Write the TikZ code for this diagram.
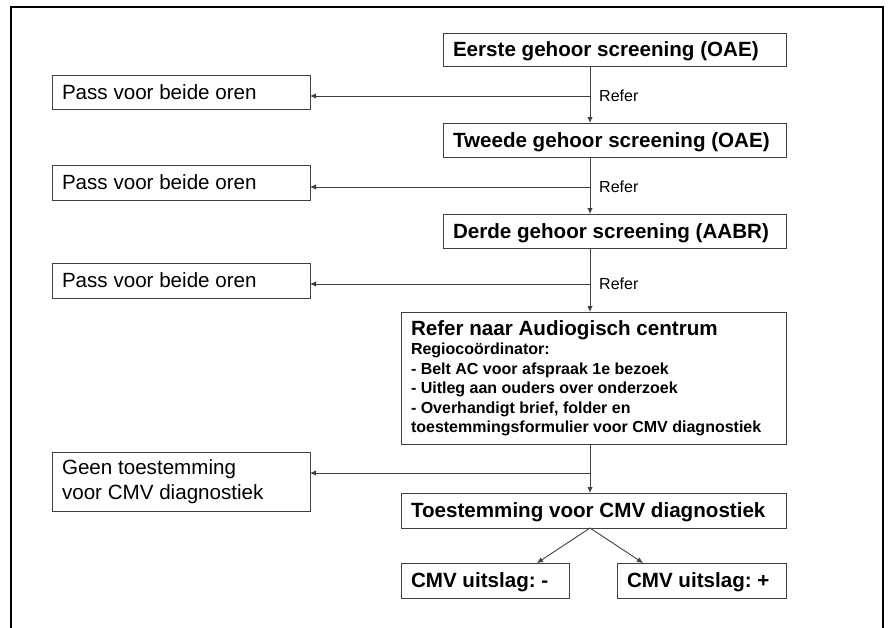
\documentclass[tikz,border=0pt]{standalone}
\usepackage{fontspec}
\setmainfont{Liberation Sans}
\usetikzlibrary{positioning, arrows.meta}
\tikzset{>={Latex[length=6pt,width=5.5pt]},
box/.style={draw=black!75, line width=0.9pt, inner xsep=10pt, inner ysep=0pt, outer sep=0pt,
    align=flush left, anchor=north west, font=\frenchspacing\fontsize{20.6}{25}\selectfont},
stage/.style={box, font=\frenchspacing\bfseries\fontsize{20.6}{25}\selectfont},
flat/.style={text depth=0pt},
flow/.style={->, draw=black!75, line width=0.9pt},
reflabel/.style={inner sep=0pt, font=\fontsize{16}{19}\selectfont},
}

\begin{document}
\begin{tikzpicture}[x=1pt, y=-1pt]
    \useasboundingbox (0,0) rectangle (891,627);
    \draw[line width=2pt] (11,640) |- (883,7) -- (883,640);

    % screening steps
    \node[stage, flat, text width=323pt, minimum height=33pt] (eerste) at (443,33) {Eerste gehoor screening (OAE)};
    \node[stage, flat, text width=323pt, minimum height=34pt] (tweede) at (443,123) {Tweede gehoor screening (OAE)};
    \node[stage, flat, text width=323pt, minimum height=34pt] (derde) at (443,214) {Derde gehoor screening (AABR)};
    \node[stage, text width=365pt, minimum height=132pt] (audio) at (401,312) {%
        Refer naar Audiogisch centrum\\
        {\fontsize{16}{19.5}\selectfont Regioco\"ordinator:\\
        - Belt AC voor afspraak 1e bezoek\\
        - Uitleg aan ouders over onderzoek\\
        - Overhandigt brief, folder en\\
        toestemmingsformulier voor CMV diagnostiek\par}};
    \node[stage, flat, text width=365pt, minimum height=35pt] (toest) at (401,493) {Toestemming voor CMV diagnostiek};
    \node[stage, flat, text width=148pt, minimum height=35pt] (cmvmin) at (401,563) {CMV uitslag: -};
    \node[stage, flat, text width=149pt, minimum height=35pt] (cmvplus) at (617,563) {CMV uitslag: +};

    % outcomes on the left
    \node[box, flat, text width=238pt, minimum height=34pt] (pass1) at (52,75) {Pass voor beide oren};
    \node[box, flat, text width=238pt, minimum height=35pt] (pass2) at (52,165) {Pass voor beide oren};
    \node[box, flat, text width=238pt, minimum height=35pt] (pass3) at (52,263) {Pass voor beide oren};
    \node[box, text width=238pt, minimum height=59pt] (geen) at (52,452) {Geen toestemming\\voor CMV diagnostiek};

    \coordinate (spine) at (590,0);
    \coordinate (r1) at (590,96);
    \coordinate (r2) at (590,187);
    \coordinate (r3) at (590,284);
    \coordinate (r4) at (590,473);
    \coordinate (dneg) at (537,0);
    \coordinate (dpos) at (643,0);

    \draw[flow] (eerste.south -| spine) -- (tweede.north -| spine);
    \draw[flow] (tweede.south -| spine) -- (derde.north -| spine);
    \draw[flow] (derde.south -| spine) -- (audio.north -| spine);
    \draw[flow] (audio.south -| spine) -- (toest.north -| spine);
    \draw[flow] (r1) -- (r1 -| pass1.east);
    \draw[flow] (r2) -- (r2 -| pass2.east);
    \draw[flow] (r3) -- (r3 -| pass3.east);
    \draw[flow] (r4) -- (r4 -| geen.east);
    \draw[flow] (toest.south -| spine) -- (cmvmin.north -| dneg);
    \draw[flow] (toest.south -| spine) -- (cmvplus.north -| dpos);

    \node[reflabel, right=9pt of r1] (refer1) {Refer};
    \node[reflabel, right=9pt of r2] (refer2) {Refer};
    \node[reflabel, right=9pt of r3] (refer3) {Refer};
\end{tikzpicture}
\end{document}
